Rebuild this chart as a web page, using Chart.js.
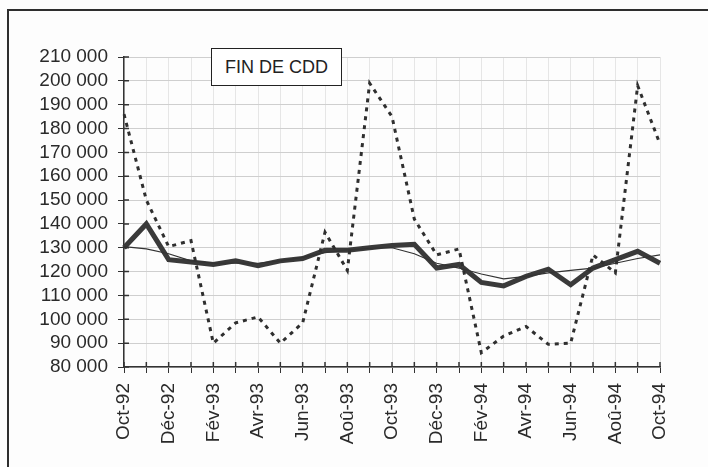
<!DOCTYPE html>
<html>
<head>
  <meta charset="UTF-8">
  <title>Fin de CDD</title>
  <script src="https://cdn.jsdelivr.net/npm/chart.js"></script>
  <style>
    body {
      margin: 0;
      background: #fdfdfd;
      font-family: "Liberation Sans", Arial, sans-serif;
    }
    #wrap {
      position: relative;
      width: 708px;
      height: 467px;
      overflow: hidden;
    }
    #frame {
      position: absolute;
      left: 7px;
      top: 9px;
      right: 0;
      bottom: -5px;
      border-top: 2px solid #2e2e2e;
      border-left: 2px solid #2e2e2e;
    }
    #box-title {
      position: absolute;
      left: 211px;
      top: 48px;
      width: 129px;
      height: 36px;
      line-height: 36px;
      text-align: center;
      border: 1.5px solid #222;
      background: #fff;
      color: #222;
      font-size: 18px;
      z-index: 2;
    }
    canvas { position: absolute; left: 0; top: 0; }
  </style>
</head>
<body>
  <div id="wrap">
    <div id="frame"></div>
    <canvas id="chart" width="708" height="467"></canvas>
    <div id="box-title">FIN DE CDD</div>
  </div>

  <script>
    const months = ["Oct-92", "Nov-92", "Déc-92", "Jan-93", "Fév-93", "Mar-93", "Avr-93", "Mai-93", "Jun-93",
      "Jul-93", "Aoû-93", "Sep-93", "Oct-93", "Nov-93", "Déc-93", "Jan-94", "Fév-94", "Mar-94", "Avr-94",
      "Mai-94", "Jun-94", "Jul-94", "Aoû-94", "Sep-94", "Oct-94"];

    // données brutes (pointillés)
    const brut = [186000, 150000, 130500, 133000, 90000, 98500, 101000, 90000, 98500, 136500, 120500, 199000,
      185000, 142000, 127000, 129500, 86000, 93000, 97000, 89500, 90000, 127000, 119500, 198000, 173500];
    // données CVS (trait épais)
    const cvs = [130000, 140000, 125000, 124000, 123000, 124500, 122500, 124500, 125500, 129000, 129000, 130000,
      131000, 131500, 121500, 123000, 115500, 114000, 118000, 121000, 114500, 121500, 125000, 128500, 123500];
    // tendance (trait fin)
    const tendance = [130500, 129500, 127500, 124500, 123500, 123500, 123500, 124500, 126000, 128000, 129000, 129800,
      130000, 127500, 123500, 121500, 119000, 117000, 118000, 119500, 120500, 121500, 123500, 125500, 127000];

    const yMin = 80000, yMax = 210000, yStep = 10000;

    // petits traits de graduation vers l'intérieur
    const innerTicks = {
      id: "innerTicks",
      afterDatasetsDraw(chart) {
        const { ctx, chartArea, scales } = chart;
        ctx.save();
        ctx.strokeStyle = "#333";
        ctx.lineWidth = 1.5;
        ctx.beginPath();
        scales.y.ticks.forEach((t, i) => {
          const y = scales.y.getPixelForTick(i);
          ctx.moveTo(chartArea.left, y);
          ctx.lineTo(chartArea.left + 5, y);
        });
        scales.x.ticks.forEach((t, i) => {
          const x = scales.x.getPixelForTick(i);
          ctx.moveTo(x, chartArea.bottom);
          ctx.lineTo(x, chartArea.bottom - 5);
        });
        ctx.stroke();
        ctx.restore();
      }
    };

    new Chart(document.getElementById("chart"), {
      type: "line",
      data: {
        labels: months,
        datasets: [
          {
            data: brut,
            borderColor: "#2f2f2f",
            borderWidth: 3,
            borderDash: [4, 5],
            pointRadius: 0,
            tension: 0
          },
          {
            data: tendance,
            borderColor: "#333",
            borderWidth: 1.2,
            pointRadius: 0,
            tension: 0
          },
          {
            data: cvs,
            borderColor: "#3a3a3a",
            borderWidth: 5,
            pointRadius: 0,
            tension: 0
          }
        ]
      },
      options: {
        responsive: false,
        animation: false,
        layout: { padding: { left: 10, right: 48, top: 57, bottom: 0 } },
        plugins: {
          legend: { display: false },
          tooltip: { enabled: false }
        },
        scales: {
          x: {
            offset: false,
            afterFit: (s) => { s.height = 100; },
            grid: { color: "#e6e6e6", lineWidth: 1, tickLength: 6, tickColor: "#333", offset: false },
            border: { color: "#333", width: 1.5 },
            ticks: {
              autoSkip: false,
              maxRotation: 90,
              minRotation: 90,
              padding: 10,
              color: "#2a2a2a",
              font: { family: "'Liberation Sans', Arial, sans-serif", size: 19 },
              callback: (v, i) => (i % 2 === 0 ? months[i] : "")
            }
          },
          y: {
            min: yMin,
            max: yMax,
            afterFit: (s) => { s.width = 114; },
            grid: { color: "#cfcfcf", lineWidth: 1, tickLength: 6, tickColor: "#333" },
            border: { color: "#333", width: 1.5 },
            ticks: {
              stepSize: yStep,
              autoSkip: false,
              padding: 10,
              color: "#2a2a2a",
              font: { family: "'Liberation Sans', Arial, sans-serif", size: 19 },
              callback: (v) => String(v).replace(/\B(?=(\d{3})+(?!\d))/g, " ")
            }
          }
        }
      },
      plugins: [innerTicks]
    });
  </script>
</body>
</html>
